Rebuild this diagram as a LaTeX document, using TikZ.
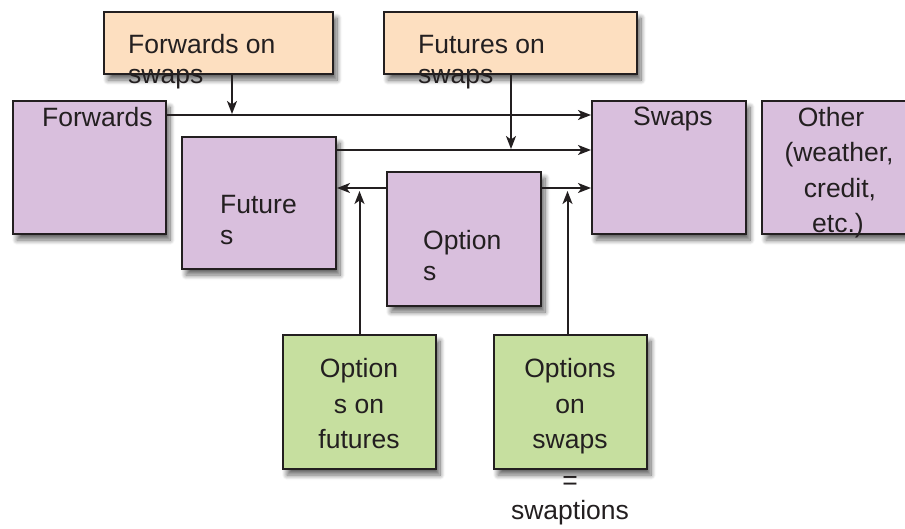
\documentclass[tikz,border=0pt]{standalone}
\usepackage{fontspec}
\setmainfont{Liberation Sans}
\usetikzlibrary{shadows.blur,calc,arrows.meta}
\definecolor{purp}{RGB}{217,191,221}
\definecolor{peach}{RGB}{253,223,192}
\definecolor{grn}{RGB}{198,223,159}
\definecolor{ink}{RGB}{35,31,32}
\tikzset{
  dbox/.style={draw=ink, line width=2pt, anchor=north west, inner sep=0pt,
    blur shadow={shadow xshift=4pt, shadow yshift=-6pt, shadow blur steps=10, shadow opacity=60, shadow blur radius=5pt}},
  txt/.style={text=ink, inner sep=0pt, font=\fontsize{26.5}{31}\selectfont},
  arr/.style={draw=ink, line width=2pt, -{Stealth[length=13pt,width=10pt,inset=3.5pt]}}
}
\begin{document}
\begin{tikzpicture}[x=1pt,y=-1pt]
\useasboundingbox (0,0) rectangle (905,528);
% boxes
\node[dbox, fill=peach, minimum width=229pt, minimum height=62pt] (fos) at (103,11) {};
\node[dbox, fill=peach, minimum width=253pt, minimum height=62pt] (fus) at (383,11) {};
\node[dbox, fill=purp, minimum width=153pt, minimum height=133pt] (fwd) at (12,100) {};
\node[dbox, fill=purp, minimum width=154pt, minimum height=132pt] (fut) at (181,136) {};
\node[dbox, fill=purp, minimum width=154pt, minimum height=134pt] (opt) at (386,171) {};
\node[dbox, fill=purp, minimum width=154pt, minimum height=133pt] (swp) at (591,100) {};
\node[dbox, fill=purp, minimum width=154pt, minimum height=133pt] (oth) at (761,100) {};
\node[dbox, fill=grn, minimum width=153pt, minimum height=134pt] (oof) at (282,334) {};
\node[dbox, fill=grn, minimum width=153pt, minimum height=134pt] (oos) at (493,334) {};
% texts
\node[txt, anchor=base west] (fos1) at (128,53) {Forwards on};
\node[txt, anchor=base west] (fos2) at (128,83) {swaps};
\node[txt, anchor=base west] (fus1) at (418,53) {Futures on};
\node[txt, anchor=base west] (fus2) at (418,83) {swaps};
\node[txt, anchor=base west] (fwd1) at (42,126) {Forwards};
\node[txt, anchor=base west] (swp1) at (633,125) {Swaps};
\node[txt, anchor=base] (oth1) at (831,126) {Other};
\node[txt, anchor=base] (oth2) at (839,161) {(weather,};
\node[txt, anchor=base] (oth3) at (840,197) {credit,};
\node[txt, anchor=base] (oth4) at (838,232) {etc.)};
\node[txt, anchor=base west] (fut1) at (220,213) {Future};
\node[txt, anchor=base west] (fut2) at (220,244) {s};
\node[txt, anchor=base west] (opt1) at (423,249) {Option};
\node[txt, anchor=base west] (opt2) at (423,280) {s};
\node[txt, anchor=base] (oof1) at (359,377) {Option};
\node[txt, anchor=base] (oof2) at (359,413) {s on};
\node[txt, anchor=base] (oof3) at (359,448) {futures};
\node[txt, anchor=base] (oos1) at (570,377) {Options};
\node[txt, anchor=base] (oos2) at (570,413) {on};
\node[txt, anchor=base] (oos3) at (570,448) {swaps};
\node[txt] (oos4) at (570,483) {=};
\node[txt, anchor=base] (oos5) at (570,519) {swaptions};
% connectors
\coordinate (l1) at ($(fwd.north east)+(0,15)$);
\draw[arr] (l1) -- (l1 -| swp.west);
\coordinate (d1) at ($(fos.south west)+(129,0)$);
\draw[arr] (d1) -- ($(d1 |- l1)+(0,-1)$);
\coordinate (l2) at ($(fut.north east)+(0,14)$);
\draw[arr] (l2) -- (l2 -| swp.west);
\coordinate (d2) at ($(fus.south west)+(128,0)$);
\draw[arr] (d2) -- ($(d2 |- l2)+(0,-1)$);
\coordinate (l3) at ($(opt.north west)+(0,17)$);
\draw[arr] (l3) -- (l3 -| fut.east);
\coordinate (l4) at ($(opt.north east)+(0,17)$);
\draw[arr] (l4) -- (l4 -| swp.west);
\draw[arr] (oof.north) -- ($(oof.north |- l3)+(0,3)$);
\coordinate (u2) at ($(oos.north)+(-3,0)$);
\draw[arr] (u2) -- ($(u2 |- l4)+(0,3)$);
\end{tikzpicture}
\end{document}
